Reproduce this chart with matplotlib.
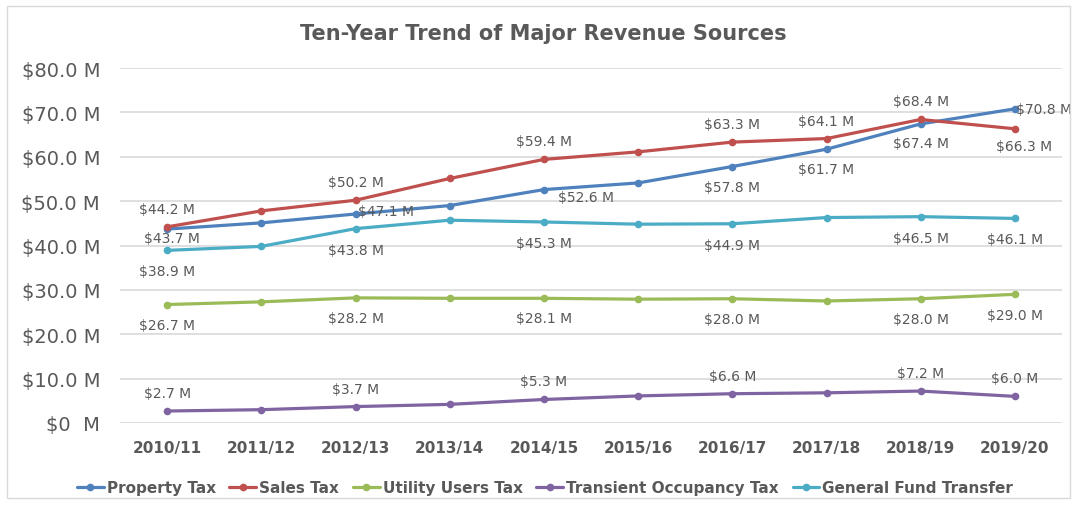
import matplotlib
matplotlib.use("Agg")
import matplotlib.pyplot as plt
from matplotlib.patches import Rectangle
from matplotlib.ticker import FixedLocator

# ---------------- data ----------------
categories = ["2010/11", "2011/12", "2012/13", "2013/14", "2014/15",
              "2015/16", "2016/17", "2017/18", "2018/19", "2019/20"]
property_tax = [43.7, 45.1, 47.1, 49.0, 52.6, 54.1, 57.8, 61.7, 67.4, 70.8]
sales_tax = [44.2, 47.8, 50.2, 55.1, 59.4, 61.1, 63.3, 64.1, 68.4, 66.3]
utility_users_tax = [26.7, 27.3, 28.2, 28.1, 28.1, 27.9, 28.0, 27.5, 28.0, 29.0]
transient_occupancy_tax = [2.7, 3.0, 3.7, 4.2, 5.3, 6.1, 6.6, 6.8, 7.2, 6.0]
general_fund_transfer = [38.9, 39.8, 43.8, 45.7, 45.3, 44.8, 44.9, 46.3, 46.5, 46.1]
series_names = ["Property Tax", "Sales Tax", "Utility Users Tax",
                "Transient Occupancy Tax", "General Fund Transfer"]
y_ticks = [0, 10, 20, 30, 40, 50, 60, 70, 80]
y_tick_labels = ["$0  M", "$10.0 M", "$20.0 M", "$30.0 M", "$40.0 M",
                 "$50.0 M", "$60.0 M", "$70.0 M", "$80.0 M"]
title = "Ten-Year Trend of Major Revenue Sources"

# ---------------- style ----------------
W, H = 1077, 506
DPI = 100
TXT = "#595959"
GRID = "#D9D9D9"
colors = ["#4F81BD", "#C0504D", "#9BBB59", "#8064A2", "#4BACC6"]
values = [property_tax, sales_tax, utility_users_tax,
          transient_occupancy_tax, general_fund_transfer]

PX = 72.0 / DPI  # points per pixel

# label placements per series: index -> (ha, dx_px, dy_px) (dy positive = up)
above = ("center", 0, 18)
below = ("center", 0, -20)
label_specs = [
    {0: ("center", 5, -9), 2: ("left", 3, 3), 4: ("left", 14, -7),
     6: below, 7: below, 8: ("center", 0, -19), 9: ("left", 1, 0)},
    {0: above, 2: above, 4: above, 6: above, 7: above, 8: above,
     9: ("center", 9, -17)},
    {0: below, 2: below, 4: below, 6: below, 8: below, 9: ("center", 0, -21)},
    {0: above, 2: above, 4: above, 6: above, 8: above, 9: above},
    {0: ("center", 0, -21), 2: ("center", 0, -21), 4: ("center", 0, -21),
     6: ("center", 0, -21), 8: ("center", 0, -21), 9: ("center", 0, -21)},
]

plt.rcParams["font.family"] = ["DejaVu Sans"]

fig = plt.figure(figsize=(W / DPI, H / DPI), dpi=DPI)
left, right, bottom, top = 120, 1062, 424, 69
ax = fig.add_axes([left / W, 1 - bottom / H, (right - left) / W, (bottom - top) / H])

x = list(range(len(categories)))
handles = []
for name, vals, col, specs in zip(series_names, values, colors, label_specs):
    h, = ax.plot(x, vals, color=col, lw=2.3, marker="o", ms=5.5,
                 markeredgewidth=0, solid_capstyle="round", zorder=3,
                 label=name)
    handles.append(h)
    for i, (ha, dx, dy) in specs.items():
        ax.annotate(f"${vals[i]:.1f} M", (x[i], vals[i]),
                    xytext=(dx * PX, dy * PX), textcoords="offset points",
                    ha=ha, va="center", fontsize=10, color=TXT, zorder=4)

ax.set_xlim(-0.5, len(categories) - 0.5)
ax.set_ylim(0, 80)
ax.yaxis.set_major_locator(FixedLocator(y_ticks))
ax.set_yticklabels(y_tick_labels)
ax.set_xticks(x)
ax.set_xticklabels(categories, fontweight="bold")
ax.tick_params(axis="y", length=0, pad=20 * PX, labelsize=14, labelcolor=TXT)
ax.tick_params(axis="x", length=0, pad=17 * PX, labelsize=11, labelcolor=TXT)
ax.grid(axis="y", color=GRID, lw=1.2)
ax.set_axisbelow(True)
for s in ax.spines.values():
    s.set_visible(False)

fig.text(543 / W, 1 - 34 / H, title, ha="center", va="center",
         fontsize=15, fontweight="bold", color=TXT)

leg = fig.legend(handles=handles, loc="center", ncol=5,
                 bbox_to_anchor=(545 / W, 1 - 489 / H), frameon=False,
                 prop={"weight": "bold", "size": 11},
                 handlelength=1.75, handletextpad=0.2, columnspacing=0.9,
                 borderaxespad=0, borderpad=0)
for t in leg.get_texts():
    t.set_color(TXT)

fig.patches.append(Rectangle((7 / W, 7 / H), (W - 14) / W, (H - 14) / H,
                             transform=fig.transFigure, fill=False,
                             edgecolor=GRID, lw=1.0))

fig.savefig("out.png", dpi=DPI)
